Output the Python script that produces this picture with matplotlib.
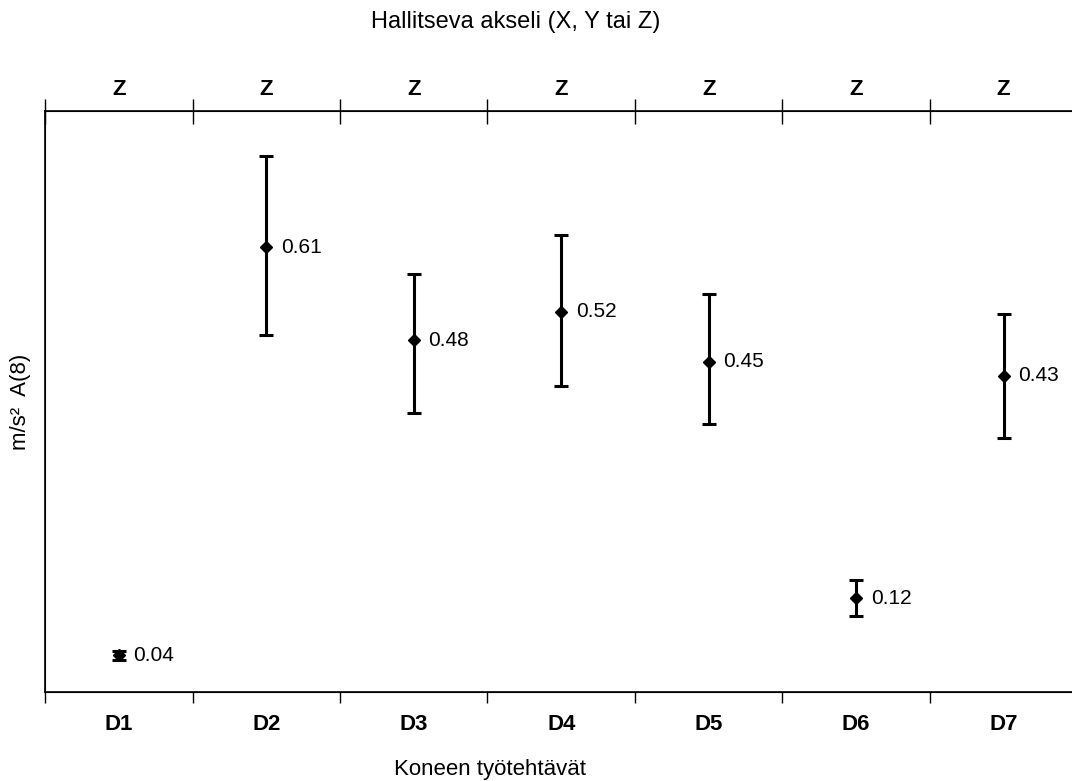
import matplotlib.pyplot as plt
from matplotlib.ticker import FixedLocator, NullFormatter

plt.rcParams['font.family'] = ['Liberation Sans', 'DejaVu Sans']

tasks = ["D1", "D2", "D3", "D4", "D5", "D6", "D7"]
axis_dom = ["Z", "Z", "Z", "Z", "Z", "Z", "Z"]
a8 = [0.04, 0.61, 0.48, 0.52, 0.45, 0.12, 0.43]
a8_low = [0.034, 0.487, 0.379, 0.416, 0.363, 0.095, 0.343]
a8_high = [0.046, 0.737, 0.572, 0.627, 0.545, 0.145, 0.516]

fig = plt.figure(figsize=(10.72, 7.81), dpi=100)
ax = fig.add_axes([0.042, 0.114, 0.963, 0.744])

x = list(range(len(tasks)))
yerr = [[v - lo for v, lo in zip(a8, a8_low)],
        [hi - v for v, hi in zip(a8, a8_high)]]
ax.errorbar(x, a8, yerr=yerr, fmt="D", color="black", ms=6.5,
            elinewidth=2.2, capsize=5, capthick=2.2, zorder=3)

# value labels next to each marker
for xi, v in zip(x, a8):
    ax.text(xi + 0.1, v, f"{v:.2f}", va="center", ha="left", fontsize=15)

ax.set_xlim(-0.5, len(tasks) - 0.5)
ax.set_ylim(-0.011, 0.8)

# bottom axis: tick marks between categories, labels at centres
bounds = [i - 0.5 for i in range(len(tasks) + 1)]
ax.xaxis.set_major_locator(FixedLocator(bounds))
ax.xaxis.set_major_formatter(NullFormatter())
ax.xaxis.set_minor_locator(FixedLocator(x))
ax.set_xticklabels(tasks, minor=True, fontsize=16, fontweight="bold")
ax.tick_params(axis="x", which="major", length=8, width=1, direction="out")
ax.tick_params(axis="x", which="minor", length=0, pad=16)
ax.set_yticks([])
ax.spines["right"].set_visible(False)
for s in ["left", "bottom", "top"]:
    ax.spines[s].set_linewidth(1.2)

# top axis with dominant vibration axis
top = ax.twiny()
top.set_xlim(ax.get_xlim())
top.xaxis.set_major_locator(FixedLocator(bounds))
top.xaxis.set_major_formatter(NullFormatter())
top.xaxis.set_minor_locator(FixedLocator(x))
top.set_xticklabels(axis_dom, minor=True, fontsize=16, fontweight="bold")
top.tick_params(axis="x", which="major", length=18, width=1, direction="inout")
top.tick_params(axis="x", which="minor", length=0, pad=8)
top.spines["right"].set_visible(False)

fig.text(0.481, 1 - 22 / 781, "Hallitseva akseli (X, Y tai Z)", fontsize=17,
         ha="center", va="center")
fig.text(0.457, 1 - 769 / 781, "Koneen työtehtävät", fontsize=16,
         ha="center", va="center")
ax.set_ylabel("m/s²  A(8)", fontsize=16, labelpad=10)

fig.savefig("out.png", dpi=100)
